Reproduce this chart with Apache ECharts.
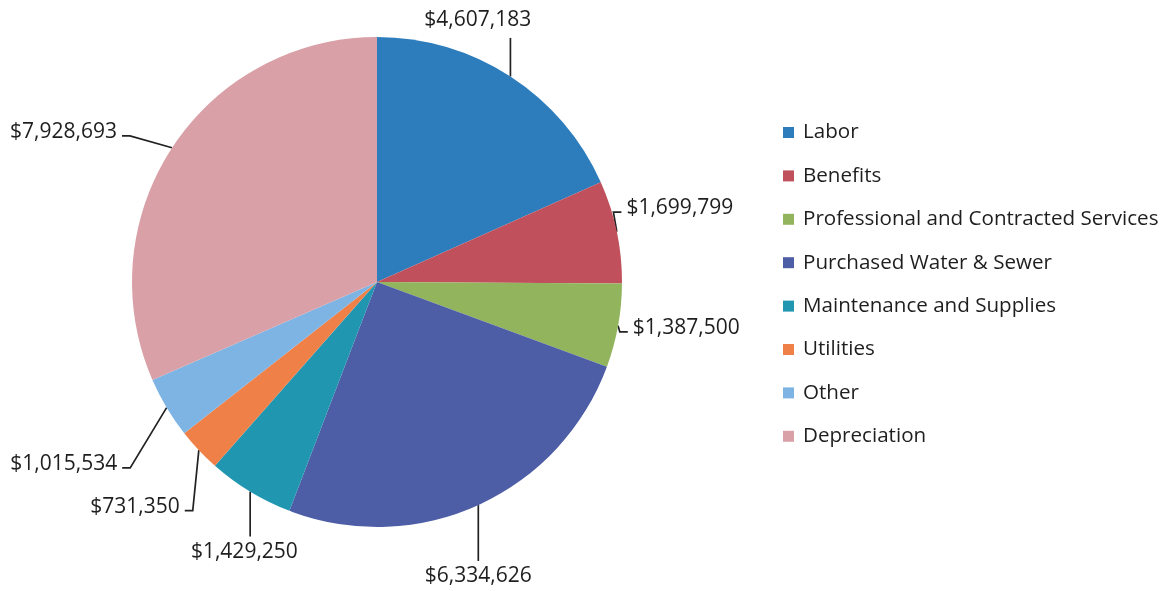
<!DOCTYPE html>
<html>
<head>
<meta charset="utf-8">
<script src="https://cdn.jsdelivr.net/npm/echarts@6/dist/echarts.min.js"></script>
<style>html,body{margin:0;padding:0;background:#fff;}#c{width:1176px;height:591px;}</style>
</head>
<body>
<div id="c"></div>
<script>
const categories = ["Labor","Benefits","Professional and Contracted Services","Purchased Water & Sewer","Maintenance and Supplies","Utilities","Other","Depreciation"];
const values = [4607183,1699799,1387500,6334626,1429250,731350,1015534,7928693];
const colors = ["#2d7dbd","#c0505b","#92b45c","#4d5ea6","#2196b1","#ee8048","#7db4e4","#d9a1a7"];

// label nudges (px) relative to ECharts' default outside label placement
const labelNudge = [[-110,-41],[-22,-20],[-17,-1],[-75,55],[71,45],[8,44],[-20,47],[-26,-6]];

const chart = echarts.init(document.getElementById('c'));
const fmt = v => '$' + v.toLocaleString('en-US');
chart.setOption({
  animation: false,
  color: colors,
  legend: {
    orient: 'vertical',
    left: 778,
    top: 117,
    itemWidth: 11,
    itemHeight: 11,
    itemGap: 22.4,
    icon: 'rect',
    textStyle: {fontFamily: 'Open Sans', fontSize: 20.6, color: '#1e1e1e', lineHeight: 20, padding: [0,0,0,4]},
    data: categories
  },
  series: [{
    type: 'pie',
    center: [377, 282],
    radius: 245,
    startAngle: 90,
    clockwise: true,
    avoidLabelOverlap: true,
    data: categories.map((n, i) => ({name: n, value: values[i]})),
    label: {
      show: true,
      position: 'outside',
      formatter: p => fmt(p.value),
      fontFamily: 'Open Sans',
      fontSize: 21,
      color: '#1e1e1e',
      distanceToLabelLine: 4
    },
    labelLine: {
      show: true,
      length: 18,
      length2: 10,
      lineStyle: {color: '#222', width: 1.7}
    },
    labelLayout: function (params) {
      const n = labelNudge[params.dataIndex];
      const r = params.labelRect;
      const x0 = r.x + n[0], y0 = r.y + n[1];
      const x1 = x0 + r.width, y1 = y0 + r.height;
      const cy = (y0 + y1) / 2;
      const p0 = params.labelLinePoints ? params.labelLinePoints[0] : null;
      let pts;
      if (p0) {
        if (p0[0] >= x0 && p0[0] <= x1) {
          const ye = p0[1] < y0 ? y0 - 5 : y1 + 7;
          pts = [p0, [p0[0], ye]];
        } else if (p0[0] > x1) {
          const xe = x1 + 5, yl = cy + 4;
          pts = [p0, [xe + 8, yl], [xe, yl]];
        } else {
          const xe = x0 - 5, yl = cy + 4;
          pts = [p0, [xe - 8, yl], [xe, yl]];
        }
      }
      const out = {dx: n[0], dy: n[1]};
      if (pts) out.labelLinePoints = pts;
      return out;
    },
    itemStyle: {borderWidth: 0}
  }]
});
</script>
</body>
</html>
